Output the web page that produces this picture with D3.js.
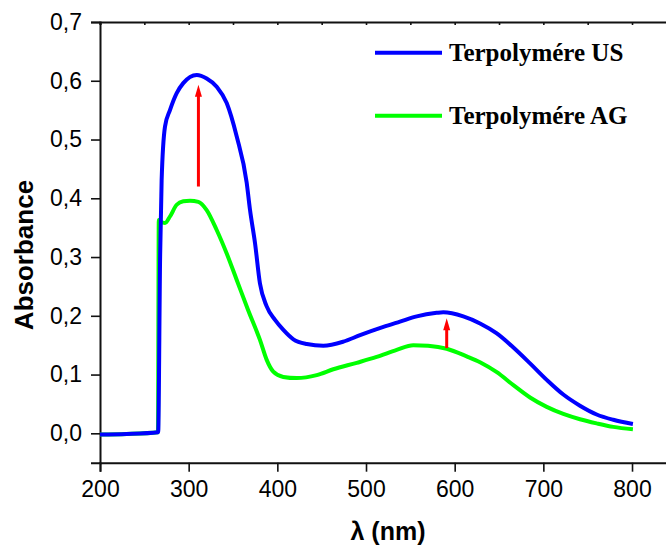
<!DOCTYPE html>
<html>
<head>
<meta charset="utf-8">
<script src="https://cdn.jsdelivr.net/npm/d3@7"></script>
<style>
  body { margin: 0; background: #fff; }
  svg { display: block; }
</style>
</head>
<body>
<div id="chart"></div>
<script>
// series: Terpolymére US (blue) and Terpolymére AG (green)
var seriesNames = ['Terpolymére US', 'Terpolymére AG'];
var seriesColors = ['#0000ff', '#00ff00'];

var usWavelength = [200, 230, 265.6, 267.8, 269.5, 273.3, 278.9, 286.5, 293.9, 309.1, 320.3, 331.6, 342.9, 354.2, 365.4, 369.2, 374.8, 380.4, 388, 397.4, 406.8, 418.1, 433.2, 451.9, 474.5, 493.3, 519.6, 538.3, 557.2, 579.7, 587.2, 609.7, 628.6, 647.5, 666.2, 685, 703.8, 722.5, 741.3, 760.1, 778.9, 801];
var usAbsorbance = [-0.002, -0.001, 0.002, 0.30, 0.43, 0.522, 0.550, 0.579, 0.596, 0.610, 0.604, 0.590, 0.562, 0.505, 0.427, 0.380, 0.324, 0.255, 0.216, 0.193, 0.176, 0.160, 0.152, 0.149, 0.156, 0.167, 0.181, 0.190, 0.199, 0.205, 0.206, 0.199, 0.187, 0.170, 0.146, 0.119, 0.091, 0.066, 0.047, 0.032, 0.023, 0.016];

var agWavelength = [200, 230, 265.4, 266.3, 268.5, 273.3, 278.9, 286.5, 293.9, 301.5, 310.9, 320.3, 331.6, 342.9, 354.2, 367, 380.4, 388, 395.4, 406.7, 421.8, 444.4, 463.1, 489.5, 512, 534.6, 553.3, 570, 591, 613.5, 628.6, 647.5, 666.2, 685, 703.8, 722.5, 741.3, 760.1, 778.9, 801];
var agAbsorbance = [-0.002, -0.001, 0.002, 0.363, 0.360, 0.358, 0.369, 0.389, 0.395, 0.396, 0.394, 0.380, 0.346, 0.306, 0.261, 0.210, 0.159, 0.125, 0.105, 0.096, 0.094, 0.099, 0.109, 0.120, 0.130, 0.142, 0.150, 0.149, 0.144, 0.131, 0.121, 0.104, 0.082, 0.061, 0.045, 0.033, 0.024, 0.017, 0.011, 0.007];

// red arrows (wavelength, from, to)
var arrowWavelength = [311, 591];
var arrowFrom = [0.42, 0.145];
var arrowTo = [0.593, 0.196];

var xTicks = [200, 300, 400, 500, 600, 700, 800];
var xMinorTicks = d3.range(200, 851, 50);
var yTicks = [0.0, 0.1, 0.2, 0.3, 0.4, 0.5, 0.6, 0.7];
var yMinorTicks = d3.range(-0.05, 0.701, 0.05);

var width = 666, height = 547;

var svg = d3.select('#chart').append('svg')
    .attr('width', width)
    .attr('height', height);

var x = d3.scaleLinear().domain([200, 850]).range([100, 100 + 650 * 0.8867]);
var y = d3.scaleLinear().domain([-0.05, 0.7]).range([462.7, 22]);

var fmt = function (d) { return d3.format('.1f')(d).replace('.', ','); };

// bottom axis
var gx = svg.append('g').attr('transform', 'translate(0,' + y(-0.05) + ')');
gx.call(d3.axisBottom(x).tickValues(xMinorTicks).tickSize(5).tickFormat(''));
gx.call(d3.axisBottom(x).tickValues(xTicks).tickSize(9).tickPadding(9).tickFormat(d3.format('d')));

// top axis (inner ticks, no labels)
var gt = svg.append('g').attr('transform', 'translate(0,' + y(0.7) + ')');
gt.call(d3.axisTop(x).tickValues(xMinorTicks).tickSize(-3).tickFormat(''));

// left axis
var gy = svg.append('g').attr('transform', 'translate(' + x(200) + ',0)');
gy.call(d3.axisLeft(y).tickValues(yMinorTicks).tickSize(5).tickFormat(''));
gy.call(d3.axisLeft(y).tickValues(yTicks).tickSize(9).tickPadding(9).tickFormat(fmt));

svg.selectAll('.domain').attr('stroke', '#111').attr('stroke-width', 2);
svg.selectAll('.tick line').attr('stroke', '#111').attr('stroke-width', 1.6);
svg.selectAll('.tick text')
    .attr('fill', '#000')
    .style('font-family', '"Liberation Sans", Arial, sans-serif')
    .style('font-size', '23px');

// curves
var line = d3.line()
    .x(function (d) { return x(d[0]); })
    .y(function (d) { return y(d[1]); })
    .curve(d3.curveMonotoneX);

var agData = d3.zip(agWavelength, agAbsorbance);
var usData = d3.zip(usWavelength, usAbsorbance);

svg.append('path').datum(agData)
    .attr('fill', 'none')
    .attr('stroke', seriesColors[1])
    .attr('stroke-width', 4)
    .attr('stroke-linejoin', 'round')
    .attr('d', line);

svg.append('path').datum(usData)
    .attr('fill', 'none')
    .attr('stroke', seriesColors[0])
    .attr('stroke-width', 4)
    .attr('stroke-linejoin', 'round')
    .attr('d', line);

// arrows
var arrows = svg.append('g').attr('class', 'arrows');
arrowWavelength.forEach(function (w, i) {
    var ax = x(w), y0 = y(arrowFrom[i]), y1 = y(arrowTo[i]);
    var headLen = 12, headHalf = 3.5;
    arrows.append('line')
        .attr('x1', ax).attr('x2', ax)
        .attr('y1', y0).attr('y2', y1 + headLen - 1)
        .attr('stroke', '#ff0000')
        .attr('stroke-width', 3);
    arrows.append('path')
        .attr('d', 'M' + ax + ',' + y1 + 'L' + (ax + headHalf) + ',' + (y1 + headLen) + 'L' + (ax - headHalf) + ',' + (y1 + headLen) + 'Z')
        .attr('fill', '#ff0000');
});

// legend
var legend = svg.append('g').attr('class', 'legend');
seriesNames.forEach(function (name, i) {
    var ly = 52.7 + i * 63;
    legend.append('line')
        .attr('x1', 375).attr('x2', 442)
        .attr('y1', ly).attr('y2', ly)
        .attr('stroke', seriesColors[i])
        .attr('stroke-width', 4);
    legend.append('text')
        .attr('x', 449)
        .attr('y', ly + 8.5)
        .style('font-family', '"Liberation Serif", "Times New Roman", serif')
        .style('font-weight', 'bold')
        .style('font-size', '25px')
        .text(name);
});

// axis titles
svg.append('text')
    .attr('transform', 'translate(33,255) rotate(-90)')
    .attr('text-anchor', 'middle')
    .style('font-family', '"Liberation Sans", Arial, sans-serif')
    .style('font-weight', 'bold')
    .style('font-size', '26px')
    .text('Absorbance');

svg.append('text')
    .attr('x', 388)
    .attr('y', 540)
    .attr('text-anchor', 'middle')
    .style('font-family', '"Liberation Sans", Arial, sans-serif')
    .style('font-weight', 'bold')
    .style('font-size', '25px')
    .text('λ (nm)');
</script>
</body>
</html>
